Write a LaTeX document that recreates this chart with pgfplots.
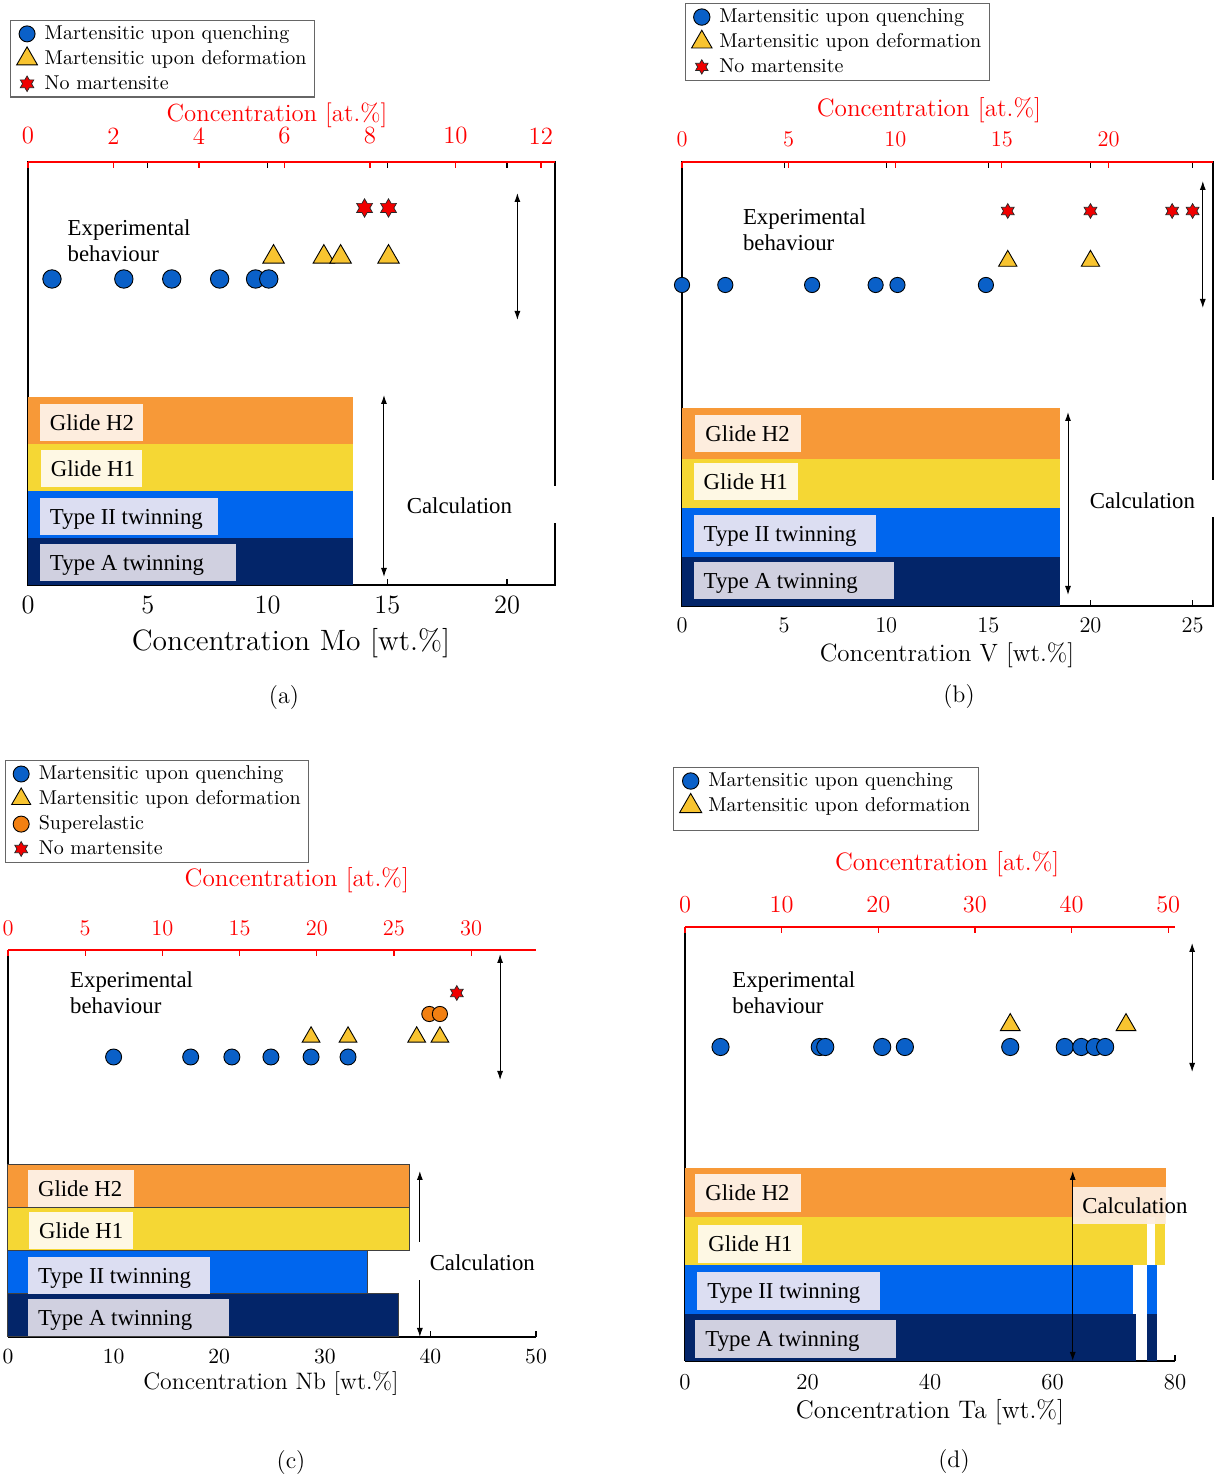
\documentclass[border=0pt]{standalone}
\usepackage{fontspec}
\usepackage{pgfplots}
\pgfplotsset{compat=1.18}
\usetikzlibrary{arrows.meta}

\newfontfamily\cam{Liberation Serif}
\newcommand{\labfont}{\cam\fontsize{11.4}{13}\selectfont}

% marker colours
\definecolor{qblue}{RGB}{10,96,200}
\definecolor{dyell}{RGB}{248,196,48}
\definecolor{nored}{RGB}{240,0,0}
\definecolor{seor}{RGB}{242,128,18}
% bar colours
\definecolor{barH2}{RGB}{247,153,56}
\definecolor{barH1}{RGB}{245,215,52}
\definecolor{barT2}{RGB}{0,102,238}
\definecolor{barTA}{RGB}{3,37,105}
% label box colours
\definecolor{boxH2}{RGB}{253,237,222}
\definecolor{boxH1}{RGB}{254,248,228}
\definecolor{boxT2}{RGB}{220,222,242}
\definecolor{boxTA}{RGB}{208,208,224}

% six-pointed star marker
\pgfdeclareplotmark{hexstar}{%
  \pgfpathmoveto{\pgfpointpolar{90}{\pgfplotmarksize}}%
  \pgfpathlineto{\pgfpointpolar{120}{0.577\pgfplotmarksize}}%
  \pgfpathlineto{\pgfpointpolar{150}{\pgfplotmarksize}}%
  \pgfpathlineto{\pgfpointpolar{180}{0.577\pgfplotmarksize}}%
  \pgfpathlineto{\pgfpointpolar{210}{\pgfplotmarksize}}%
  \pgfpathlineto{\pgfpointpolar{240}{0.577\pgfplotmarksize}}%
  \pgfpathlineto{\pgfpointpolar{270}{\pgfplotmarksize}}%
  \pgfpathlineto{\pgfpointpolar{300}{0.577\pgfplotmarksize}}%
  \pgfpathlineto{\pgfpointpolar{330}{\pgfplotmarksize}}%
  \pgfpathlineto{\pgfpointpolar{0}{0.577\pgfplotmarksize}}%
  \pgfpathlineto{\pgfpointpolar{30}{\pgfplotmarksize}}%
  \pgfpathlineto{\pgfpointpolar{60}{0.577\pgfplotmarksize}}%
  \pgfpathclose
  \pgfusepathqfillstroke
}

\pgfplotsset{
  dotlegend/.style={legend image code/.code={%
      \path (0pt,0pt) (12pt,0pt);
      \draw[##1] plot coordinates {(4.5pt,0pt)};}},
  qmark/.style={only marks, mark=*, mark options={fill=qblue, draw=black, line width=0.45pt}, dotlegend},
  dmark/.style={only marks, mark=triangle*, mark options={fill=dyell, draw=black, line width=0.45pt}, dotlegend},
  smark/.style={only marks, mark=hexstar, mark options={fill=nored, draw=black!85, line width=0.35pt}, dotlegend},
  emark/.style={only marks, mark=*, mark options={fill=seor, draw=black, line width=0.45pt}, dotlegend},
  bar/.style={draw=none, forget plot},
  panel/.style={scale only axis, anchor=south west, clip=false, ymin=0,
    ytick=\empty, tick align=inside, major tick length=2.8pt,
    axis line style={line width=0.6pt}, tick style={black, line width=0.6pt},
    /pgf/number format/assume math mode=true,
    legend cell align=left,
    legend style={draw=black!60, line width=0.6pt, fill=white, inner xsep=3pt, inner ysep=0.5pt,
      font=\fontsize{10}{12}\selectfont, row sep=0pt, anchor=north west, nodes={inner xsep=1pt}},
  },
  topaxis/.style={scale only axis, anchor=south west, axis x line*=top, hide y axis, ymin=0, ymax=1,
    axis line style={red, line width=0.6pt}, tick style={red, line width=0.6pt},
    tick align=inside, major tick length=2.8pt, xticklabel style={text=red},
    xlabel style={text=red, anchor=center}, /pgf/number format/assume math mode=true},
}
\tikzset{
  box/.style={inner sep=0pt, minimum height=18.5pt, anchor=north west},
  lab/.style={anchor=west, font=\labfont, inner sep=0pt, text height=9.6pt, text depth=2.4pt},
  twoway/.style={{Latex[length=4.5pt,width=3pt]}-{Latex[length=4.5pt,width=3pt]}, line width=0.5pt},
  txt/.style={font=\labfont, align=left, anchor=west, inner sep=0pt},
}

\begin{document}
\begin{tikzpicture}
\useasboundingbox (0,0) rectangle (609.5pt,738pt);

%% ---------------- (a) Mo ----------------
\begin{axis}[panel, at={(14pt,445.5pt)}, width=263.5pt, height=211.5pt,
  xmin=0, xmax=22, ymax=423, xtick={0,5,...,20}, xtick pos=both,
  xticklabel style={font=\fontsize{13.2}{16}\selectfont, yshift=-2pt},
  xlabel={Concentration Mo [wt.\%]},
  xlabel style={font=\fontsize{14.7}{17}\selectfont, at={(axis description cs:0.499,-0.137)}, anchor=center},
  legend style={at={(axis description cs:-0.034,1.336)}},
]
\addlegendimage{qmark, mark size=4pt}\addlegendentry{Martensitic upon quenching}
\addlegendimage{dmark, mark size=6pt}\addlegendentry{Martensitic upon deformation}
\addlegendimage{smark, mark size=3.9pt}\addlegendentry{No martensite}
\addplot[bar, fill=barTA] coordinates {(0,0) (13.55,0) (13.55,47) (0,47)};
\addplot[bar, fill=barT2] coordinates {(0,47) (13.55,47) (13.55,94) (0,94)};
\addplot[bar, fill=barH1] coordinates {(0,94) (13.55,94) (13.55,141) (0,141)};
\addplot[bar, fill=barH2] coordinates {(0,141) (13.55,141) (13.55,188) (0,188)};
\addplot[qmark, mark size=4.6pt, forget plot] coordinates {(1,306) (4,306) (6,306) (8,306) (9.5,306) (10.05,306)};
\addplot[dmark, mark size=6.2pt, forget plot] coordinates {(10.25,328) (12.35,328) (13.05,328) (15.05,328)};
\addplot[smark, mark size=4.6pt, forget plot] coordinates {(14.05,377) (15.05,377)};
\node[box, fill=boxH2, minimum width=51.5pt] (a1) at (axis cs:0.48,181) {};
\node[lab] at ([xshift=5pt]a1.west) {Glide H2};
\node[box, fill=boxH1, minimum width=50.5pt] (a2) at (axis cs:0.52,135) {};
\node[lab] at ([xshift=5pt]a2.west) {Glide H1};
\node[box, fill=boxT2, minimum width=89pt] (a3) at (axis cs:0.48,87) {};
\node[lab] at ([xshift=5pt]a3.west) {Type II twinning};
\node[box, fill=boxTA, minimum width=98pt] (a4) at (axis cs:0.48,41) {};
\node[lab] at ([xshift=5pt]a4.west) {Type A twinning};
\draw[twoway] (axis cs:14.86,8) -- (axis cs:14.86,190);
\node[txt] at (axis cs:15.8,79) {Calculation};
\draw[white, line width=2pt] (axis cs:22,62) -- (axis cs:22,99);
\draw[twoway] (axis cs:20.43,265) -- (axis cs:20.43,392);
\node[txt] at (axis cs:1.64,344.5) {Experimental\\behaviour};
\end{axis}
\begin{axis}[topaxis, at={(14pt,445.5pt)}, width=263.5pt, height=211.5pt,
  xmin=0, xmax=12.33, xtick={0,2,...,12},
  xticklabel style={font=\fontsize{12.4}{15}\selectfont, yshift=5.4pt},
  xlabel={Concentration [at.\%]},
  xlabel style={font=\fontsize{12.4}{15}\selectfont, at={(axis description cs:0.4725,1.111)}},
]
\end{axis}

%% ---------------- (b) V ----------------
\begin{axis}[panel, at={(341pt,435pt)}, width=265.5pt, height=222pt,
  xmin=0, xmax=26, ymax=444, xtick={0,5,...,25}, xtick pos=both,
  xticklabel style={font=\fontsize{11.2}{14}\selectfont, yshift=-2.2pt},
  xlabel={Concentration V [wt.\%]},
  xlabel style={font=\fontsize{12.5}{15}\selectfont, at={(axis description cs:0.499,-0.110)}, anchor=center},
  legend style={at={(axis description cs:0.0056,1.358)}},
]
\addlegendimage{qmark, mark size=4.1pt}\addlegendentry{Martensitic upon quenching}
\addlegendimage{dmark, mark size=5.9pt}\addlegendentry{Martensitic upon deformation}
\addlegendimage{smark, mark size=3.6pt}\addlegendentry{No martensite}
\addplot[bar, fill=barTA] coordinates {(0,0) (18.5,0) (18.5,49) (0,49)};
\addplot[bar, fill=barT2] coordinates {(0,49) (18.5,49) (18.5,98) (0,98)};
\addplot[bar, fill=barH1] coordinates {(0,98) (18.5,98) (18.5,147) (0,147)};
\addplot[bar, fill=barH2] coordinates {(0,147) (18.5,147) (18.5,198) (0,198)};
\addplot[qmark, mark size=3.8pt, forget plot] coordinates {(0,321) (2.12,321) (6.37,321) (9.48,321) (10.55,321) (14.88,321)};
\addplot[dmark, mark size=5.3pt, forget plot] coordinates {(15.95,345) (20,345)};
\addplot[smark, mark size=3.7pt, forget plot] coordinates {(15.95,395) (20,395) (24,395) (25,395)};
\node[box, fill=boxH2, minimum width=53pt] (b1) at (axis cs:0.64,191) {};
\node[lab] at ([xshift=5pt]b1.west) {Glide H2};
\node[box, fill=boxH1, minimum width=52pt] (b2) at (axis cs:0.55,143) {};
\node[lab] at ([xshift=5pt]b2.west) {Glide H1};
\node[box, fill=boxT2, minimum width=91pt] (b3) at (axis cs:0.55,91) {};
\node[lab] at ([xshift=5pt]b3.west) {Type II twinning};
\node[box, fill=boxTA, minimum width=100pt] (b4) at (axis cs:0.55,44) {};
\node[lab] at ([xshift=5pt]b4.west) {Type A twinning};
\draw[twoway] (axis cs:18.9,11) -- (axis cs:18.9,194);
\node[txt] at (axis cs:19.95,105) {Calculation};
\draw[white, line width=2pt] (axis cs:26,89) -- (axis cs:26,126);
\draw[twoway] (axis cs:25.5,298) -- (axis cs:25.5,425);
\node[txt] at (axis cs:2.97,376.5) {Experimental\\behaviour};
\end{axis}
\begin{axis}[topaxis, at={(341pt,435pt)}, width=265.5pt, height=222pt,
  xmin=0, xmax=24.9, xtick={0,5,...,20},
  xticklabel style={font=\fontsize{11.2}{14}\selectfont, yshift=4.2pt},
  xlabel={Concentration [at.\%]},
  xlabel style={font=\fontsize{12.6}{15}\selectfont, at={(axis description cs:0.465,1.117)}},
]
\end{axis}

%% ---------------- (c) Nb ----------------
\begin{axis}[panel, at={(4pt,69.5pt)}, width=264pt, height=193.5pt,
  axis x line*=bottom, axis y line*=left,
  xmin=0, xmax=50, ymax=387, xtick={0,10,...,50},
  xticklabel style={font=\fontsize{10.8}{13}\selectfont, yshift=-2.4pt},
  xlabel={Concentration Nb [wt.\%]},
  xlabel style={font=\fontsize{11.9}{14}\selectfont, at={(axis description cs:0.498,-0.121)}, anchor=center},
  legend style={at={(axis description cs:-0.0057,1.491)}},
]
\addlegendimage{qmark, mark size=4pt}\addlegendentry{Martensitic upon quenching}
\addlegendimage{dmark, mark size=5.5pt}\addlegendentry{Martensitic upon deformation}
\addlegendimage{emark, mark size=4pt}\addlegendentry{Superelastic}
\addlegendimage{smark, mark size=3.7pt}\addlegendentry{No martensite}
\addplot[forget plot, fill=barTA, draw=black!75, line width=0.5pt] coordinates {(0,0) (37,0) (37,43) (0,43) (0,0)};
\addplot[forget plot, fill=barT2, draw=black!75, line width=0.5pt] coordinates {(0,43) (34,43) (34,86) (0,86) (0,43)};
\addplot[forget plot, fill=barH1, draw=black!75, line width=0.5pt] coordinates {(0,86) (38,86) (38,129) (0,129) (0,86)};
\addplot[forget plot, fill=barH2, draw=black!75, line width=0.5pt] coordinates {(0,129) (38,129) (38,172) (0,172) (0,129)};
\addplot[qmark, mark size=4pt, forget plot] coordinates {(10,280) (17.3,280) (21.2,280) (24.9,280) (28.7,280) (32.2,280)};
\addplot[dmark, mark size=5.1pt, forget plot] coordinates {(28.7,300) (32.2,300) (38.7,300) (40.9,300)};
\addplot[emark, mark size=3.8pt, forget plot] coordinates {(39.9,323) (40.9,323)};
\addplot[smark, mark size=3.7pt, forget plot] coordinates {(42.5,344)};
\node[box, fill=boxH2, minimum width=53pt] (c1) at (axis cs:1.86,167) {};
\node[lab] at ([xshift=5pt]c1.west) {Glide H2};
\node[box, fill=boxH1, minimum width=52pt] (c2) at (axis cs:1.96,125) {};
\node[lab] at ([xshift=5pt]c2.west) {Glide H1};
\node[box, fill=boxT2, minimum width=91pt] (c3) at (axis cs:1.86,80) {};
\node[lab] at ([xshift=5pt]c3.west) {Type II twinning};
\node[box, fill=boxTA, minimum width=100.5pt] (c4) at (axis cs:1.86,38) {};
\node[lab] at ([xshift=5pt]c4.west) {Type A twinning};
\draw[twoway] (axis cs:39,0) -- (axis cs:39,166);
\draw[white, line width=2pt] (axis cs:39,57) -- (axis cs:39,95);
\node[txt] at (axis cs:39.9,74) {Calculation};
\draw[twoway] (axis cs:46.6,257) -- (axis cs:46.6,383);
\node[txt] at (axis cs:5.85,344) {Experimental\\behaviour};
\end{axis}
\begin{axis}[topaxis, at={(4pt,69.5pt)}, width=264pt, height=193.5pt,
  xmin=0, xmax=34.2, xtick={0,5,...,30},
  xticklabel style={font=\fontsize{11.2}{14}\selectfont, yshift=3.7pt},
  xlabel={Concentration [at.\%]},
  xlabel style={font=\fontsize{12.6}{15}\selectfont, at={(axis description cs:0.547,1.181)}},
]
\end{axis}

%% ---------------- (d) Ta ----------------
\begin{axis}[panel, at={(342.5pt,57.5pt)}, width=245pt, height=217pt,
  axis x line*=bottom, axis y line*=left,
  xmin=0, xmax=80, ymax=434, xtick={0,20,...,80},
  xticklabel style={font=\fontsize{11.4}{14}\selectfont, yshift=-3pt},
  xlabel={Concentration Ta [wt.\%]},
  xlabel style={font=\fontsize{12.7}{15}\selectfont, at={(axis description cs:0.5,-0.1175)}, anchor=center},
  legend style={at={(axis description cs:-0.0245,1.3687)}},
]
\addlegendimage{qmark, mark size=4.1pt}\addlegendentry{Martensitic upon quenching}
\addlegendimage{dmark, mark size=6.4pt}\addlegendentry{Martensitic upon deformation}
\addlegendimage{empty legend}\addlegendentry{}
\addplot[bar, fill=barTA] coordinates {(0,0) (73.6,0) (73.6,47) (0,47)};
\addplot[bar, fill=barTA] coordinates {(75.5,0) (77,0) (77,47) (75.5,47)};
\addplot[bar, fill=barT2] coordinates {(0,47) (73.1,47) (73.1,96) (0,96)};
\addplot[bar, fill=barT2] coordinates {(75.5,47) (77,47) (77,96) (75.5,96)};
\addplot[bar, fill=barH1] coordinates {(0,96) (75.5,96) (75.5,144) (0,144)};
\addplot[bar, fill=barH1] coordinates {(76.8,96) (78.4,96) (78.4,144) (76.8,144)};
\addplot[bar, fill=barH2] coordinates {(0,144) (78.6,144) (78.6,193) (0,193)};
\addplot[qmark, mark size=4.3pt, forget plot] coordinates {(5.8,314) (22,314) (22.9,314) (32.2,314) (35.9,314) (53.1,314) (62,314) (64.7,314) (66.9,314) (68.6,314)};
\addplot[dmark, mark size=5.7pt, forget plot] coordinates {(53.1,336) (72,336)};
\node[box, fill=boxH2, minimum width=53pt, minimum height=19pt] (d1) at (axis cs:1.63,187) {};
\node[lab] at ([xshift=5pt]d1.west) {Glide H2};
\node[box, fill=boxH1, minimum width=52pt, minimum height=19pt] (d2) at (axis cs:2.12,136) {};
\node[lab] at ([xshift=5pt]d2.west) {Glide H1};
\node[box, fill=boxT2, minimum width=91.5pt, minimum height=19pt] (d3) at (axis cs:1.96,89) {};
\node[lab] at ([xshift=5pt]d3.west) {Type II twinning};
\node[box, fill=boxTA, minimum width=100.5pt, minimum height=19pt] (d4) at (axis cs:1.63,41) {};
\node[lab] at ([xshift=5pt]d4.west) {Type A twinning};
\fill[boxH2, opacity=0.95] (axis cs:63.3,137) rectangle (axis cs:78.5,174);
\node[txt] at (axis cs:64.8,155) {Calculation};
\draw[twoway] (axis cs:63.3,0) -- (axis cs:63.3,190);
\draw[twoway] (axis cs:82.8,289) -- (axis cs:82.8,418);
\node[txt] at (axis cs:7.67,368) {Experimental\\behaviour};
\end{axis}
\begin{axis}[topaxis, at={(342.5pt,57.5pt)}, width=245pt, height=217pt,
  xmin=0, xmax=50.7, xtick={0,10,...,50},
  xticklabel style={font=\fontsize{12.2}{15}\selectfont, yshift=3.5pt},
  xlabel={Concentration [at.\%]},
  xlabel style={font=\fontsize{12.6}{15}\selectfont, at={(axis description cs:0.535,1.145)}},
]
\end{axis}

%% ---------------- captions ----------------
\node[font=\fontsize{12}{14}\selectfont] at (142pt,389pt) {(a)};
\node[font=\fontsize{12}{14}\selectfont] at (479.5pt,389.5pt) {(b)};
\node[font=\fontsize{12}{14}\selectfont] at (145.5pt,6.5pt) {(c)};
\node[font=\fontsize{12}{14}\selectfont] at (477pt,7pt) {(d)};
\end{tikzpicture}
\end{document}
